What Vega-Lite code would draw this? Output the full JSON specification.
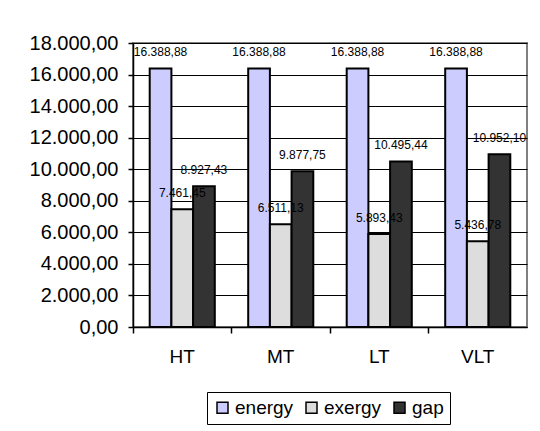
{
  "$schema": "https://vega.github.io/schema/vega-lite/v6.json",
  "autosize": "none",
  "width": 394,
  "height": 284,
  "padding": {"left": 133, "top": 43, "right": 13, "bottom": 104},
  "background": "white",
  "config": {
    "locale": {"number": {"decimal": ",", "thousands": ".", "grouping": [3], "currency": ["", ""]}},
    "font": "Liberation Sans",
    "view": {"stroke": "#808080", "strokeWidth": 2},
    "axis": {"labelFont": "Liberation Sans", "labelColor": "black", "domainColor": "black", "tickColor": "black", "domainWidth": 1.5, "tickWidth": 1.5}
  },
  "data": {
    "values": [
      {"cat": "HT", "series": "energy", "value": 16388.88},
      {"cat": "HT", "series": "exergy", "value": 7461.45},
      {"cat": "HT", "series": "gap", "value": 8927.43},
      {"cat": "MT", "series": "energy", "value": 16388.88},
      {"cat": "MT", "series": "exergy", "value": 6511.13},
      {"cat": "MT", "series": "gap", "value": 9877.75},
      {"cat": "LT", "series": "energy", "value": 16388.88},
      {"cat": "LT", "series": "exergy", "value": 5893.43},
      {"cat": "LT", "series": "gap", "value": 10495.44},
      {"cat": "VLT", "series": "energy", "value": 16388.88},
      {"cat": "VLT", "series": "exergy", "value": 5436.78},
      {"cat": "VLT", "series": "gap", "value": 10952.10}
    ]
  },
  "encoding": {
    "x": {
      "field": "cat", "type": "nominal", "sort": ["HT", "MT", "LT", "VLT"],
      "scale": {"paddingInner": 0, "paddingOuter": 0},
      "axis": {"title": null, "labelAngle": 0, "labelFontSize": 19, "labelPadding": 14, "tickSize": 6, "bandPosition": 0, "grid": false}
    },
    "xOffset": {
      "field": "series", "type": "nominal", "sort": ["energy", "exergy", "gap"],
      "scale": {"paddingInner": 0, "paddingOuter": 0.77}
    },
    "y": {
      "field": "value", "type": "quantitative",
      "scale": {"domain": [0, 18000], "nice": false},
      "axis": {"title": null, "values": [0, 2000, 4000, 6000, 8000, 10000, 12000, 14000, 16000, 18000], "format": ",.2f", "labelFontSize": 20, "labelPadding": 10, "tickSize": 5, "grid": true, "gridColor": "black", "gridWidth": 1, "gridOpacity": 1}
    }
  },
  "layer": [
    {
      "mark": {"type": "bar", "stroke": "black", "strokeWidth": 2},
      "encoding": {
        "color": {
          "field": "series", "type": "nominal", "sort": ["energy", "exergy", "gap"],
          "scale": {"domain": ["energy", "exergy", "gap"], "range": ["#ccccff", "#dddddd", "#333333"]},
          "legend": {
            "title": null, "orient": "none", "legendX": 74, "legendY": 349, "direction": "horizontal",
            "symbolType": "square", "symbolSize": 121, "symbolStrokeColor": "black", "symbolStrokeWidth": 1.5,
            "labelFontSize": 19, "labelFont": "Liberation Sans", "labelColor": "black", "labelOffset": 3,
            "columnPadding": 8, "strokeColor": "black", "padding": 6, "fillColor": "white"
          }
        }
      }
    },
    {
      "mark": {"type": "text", "dy": -16, "fontSize": 12, "font": "Liberation Sans", "color": "black"},
      "encoding": {
        "text": {"field": "value", "type": "quantitative", "format": ",.2f"}
      }
    }
  ]
}
